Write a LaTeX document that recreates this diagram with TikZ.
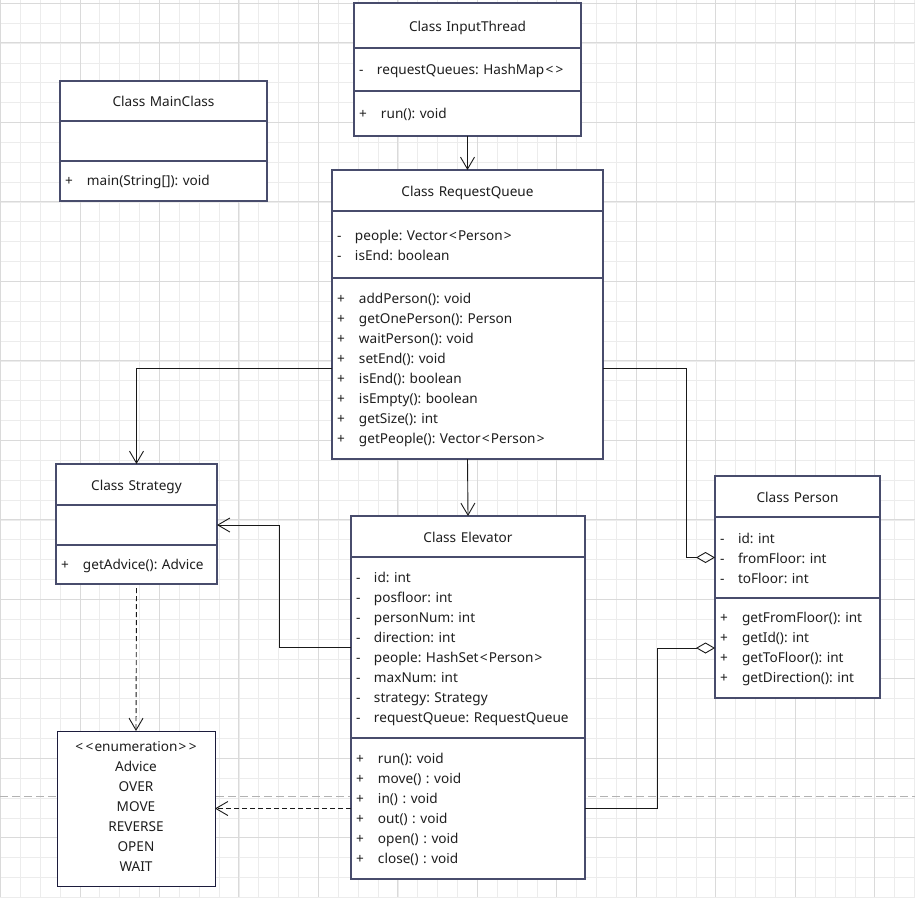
\documentclass[tikz,border=0pt]{standalone}
\usepackage{fontspec}
\setmainfont{Noto Sans}
\usetikzlibrary{positioning,arrows.meta}

\definecolor{gridminor}{RGB}{236,236,236}
\definecolor{gridmajor}{RGB}{218,218,218}
\definecolor{boxline}{RGB}{72,76,108}
\definecolor{advline}{RGB}{28,28,60}
\definecolor{txt}{RGB}{30,30,30}
\definecolor{breakline}{RGB}{178,178,178}

\newcommand{\attr}[1]{\makebox[18pt][l]{-}#1}
\newcommand{\meth}[1]{\makebox[22pt][l]{+}#1}
\newcommand{\lab}{\kern1.2pt<\kern1.2pt}
\newcommand{\rab}{\kern1.2pt>\kern1.2pt}

\begin{document}
\begin{tikzpicture}[x=1pt,y=-1pt,
    font=\fontsize{13.6}{20}\selectfont\frenchspacing, text=txt,
    box/.style={draw=boxline, line width=1.1pt, fill=white, outer sep=0pt, inner xsep=5pt, inner ysep=0pt},
    head/.style={box, align=center, text height=14.5pt, text depth=3.2pt},
    part/.style={box, align=left, text height=13pt},
    conn/.style={line width=0.9pt, draw=black!90},
    assoc/.style={-{Straight Barb[length=12pt,width=14pt]}},
    agg/.style={-{Diamond[open,length=19pt,width=11pt]}},
    dep/.style={dash pattern=on 5pt off 3pt}]
    \useasboundingbox (0,0) rectangle (915,897);

    % grid
    \foreach \i in {0,...,46} \draw[gridminor, line width=0.8pt] ({0.5+19.87*\i},0) -- ++(0,897);
    \foreach \j in {0,...,45} \draw[gridminor, line width=0.8pt] (0,{3.3+19.87*\j}) -- ++(915,0);
    \foreach \i in {0,...,11} \draw[gridmajor, line width=0.9pt] ({0.5+79.48*\i},0) -- ++(0,897);
    \foreach \j in {0,...,10} \draw[gridmajor, line width=0.9pt] (0,{42.7+79.48*\j}) -- ++(915,0);
    \draw[gridmajor, line width=0.9pt] (0,3.3) -- (915,3.3);
    \draw[breakline, line width=1pt, dash pattern=on 8pt off 4pt] (0,796) -- (915,796);

    % MainClass
    \node[head, anchor=north west, text width=197pt, minimum height=40pt] (mc-head) at (60,81) {Class MainClass};
    \node[part, below=0pt of mc-head, text width=197pt, minimum height=40pt] (mc-attr) {};
    \node[part, below=0pt of mc-attr, text width=197pt, minimum height=40pt] (mc-ops) {\meth{main(String[]): void}};

    % InputThread
    \node[head, anchor=north west, text width=217pt, minimum height=45pt] (it-head) at (354,3) {Class InputThread};
    \node[part, below=0pt of it-head, text width=217pt, minimum height=43pt] (it-attr) {\attr{requestQueues: HashMap\lab\rab}};
    \node[part, below=0pt of it-attr, text width=217pt, minimum height=45pt] (it-ops) {\meth{run(): void}};

    % RequestQueue
    \node[head, anchor=north west, text width=261pt, minimum height=41pt] (rq-head) at (332,170) {Class RequestQueue};
    \node[part, below=0pt of rq-head, text width=261pt, minimum height=67pt] (rq-attr) {\attr{people: Vector\lab Person\rab}\\\attr{isEnd: boolean}};
    \node[part, below=0pt of rq-attr, text width=261pt, minimum height=181pt] (rq-ops) {\meth{addPerson(): void}\\\meth{getOnePerson(): Person}\\\meth{waitPerson(): void}\\\meth{setEnd(): void}\\\meth{isEnd(): boolean}\\\meth{isEmpty(): boolean}\\\meth{getSize(): int}\\\meth{getPeople(): Vector\lab Person\rab}};

    % Strategy
    \node[head, anchor=north west, text width=151pt, minimum height=41pt] (st-head) at (56,464) {Class Strategy};
    \node[part, below=0pt of st-head, text width=151pt, minimum height=40pt] (st-attr) {};
    \node[part, below=0pt of st-attr, text width=151pt, minimum height=39pt] (st-ops) {\meth{getAdvice(): Advice}};

    % Elevator
    \node[head, anchor=north west, text width=224pt, minimum height=41pt] (el-head) at (351,516) {Class Elevator};
    \node[part, below=0pt of el-head, text width=224pt, minimum height=181pt] (el-attr) {\attr{id: int}\\\attr{posfloor: int}\\\attr{personNum: int}\\\attr{direction: int}\\\attr{people: HashSet\lab Person\rab}\\\attr{maxNum: int}\\\attr{strategy: Strategy}\\\attr{requestQueue: RequestQueue}};
    \node[part, below=0pt of el-attr, text width=224pt, minimum height=141pt] (el-ops) {\meth{run(): void}\\\meth{move() : void}\\\meth{in() : void}\\\meth{out() : void}\\\meth{open() : void}\\\meth{close() : void}};

    % Person
    \node[head, anchor=north west, text width=155pt, minimum height=41pt] (pe-head) at (715,476) {Class Person};
    \node[part, below=0pt of pe-head, text width=155pt, minimum height=81pt] (pe-attr) {\attr{id: int}\\\attr{fromFloor: int}\\\attr{toFloor: int}};
    \node[part, below=0pt of pe-attr, text width=155pt, minimum height=100pt] (pe-ops) {\meth{getFromFloor(): int}\\\meth{getId(): int}\\\meth{getToFloor(): int}\\\meth{getDirection(): int}};

    % Advice
    \node[box, draw=advline, line width=0.9pt, anchor=north west, text width=148pt, text height=5pt, minimum height=155pt, align=center] (adv) at (57,731) {\lab\lab enumeration\rab\rab\\Advice\\OVER\\MOVE\\REVERSE\\OPEN\\WAIT};

    % links
    \draw[conn, assoc] (it-ops.south) -- (rq-head.north);
    \draw[conn, assoc] (rq-ops.south) -- (el-head.north);
    \draw[conn, assoc] (rq-ops.west) -| (st-head.north);
    \draw[conn, agg] (rq-ops.east) -- ++(83,0) |- (pe-attr.west);
    \draw[conn, assoc] (el-attr.west) -- ++(-72,0) |- (st-attr.east);
    \draw[conn, agg] (el-ops.east) -- ++(72,0) |- (pe-ops.west);
    \draw[conn, dep, assoc] (el-ops.west) -- (adv.east);
    \draw[conn, dep, assoc, shorten <=4pt] (st-ops.south) -- (adv.north);
\end{tikzpicture}
\end{document}
